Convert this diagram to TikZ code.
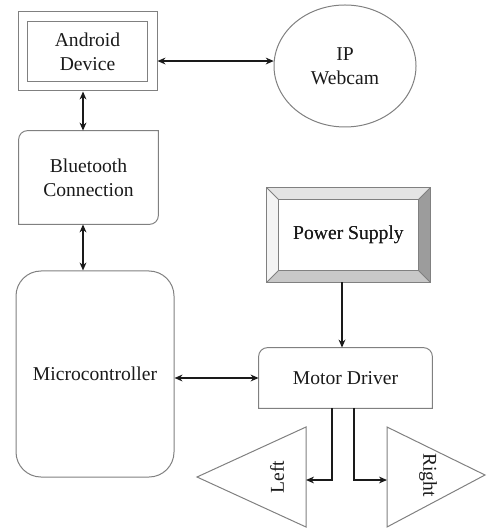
\documentclass[tikz,border=0pt]{standalone}
\usepackage{fontspec}
\setmainfont{Liberation Serif}
\usetikzlibrary{arrows.meta,shapes.geometric,calc}
\definecolor{edge}{HTML}{808080}
\definecolor{ink}{HTML}{1A1A1A}
\definecolor{bevtop}{HTML}{E4E4E4}
\definecolor{bevleft}{HTML}{F4F4F4}
\definecolor{bevright}{HTML}{9C9C9C}
\definecolor{bevbot}{HTML}{C8C8C8}
\begin{document}
\begin{tikzpicture}[x=0.5pt,y=-0.5pt,
  lbl/.style={inner sep=0pt,align=center,text=ink,font=\fontsize{9.8}{12}\selectfont},
  box/.style={lbl,draw=edge,line width=0.5pt},
  outline/.style={draw=edge,line width=0.5pt},
  conn/.style={draw=ink,line width=0.9pt,arrows={-Stealth[length=4pt,width=3.4pt]}},
  dconn/.style={conn,arrows={Stealth[length=4pt,width=3.4pt]-Stealth[length=4pt,width=3.4pt]}}]
\useasboundingbox (0,0) rectangle (486,528);

% Android device: double frame
\node[box,minimum width=69.5pt,minimum height=39.5pt] (andr) at (87.5,51.5) {Android\\Device};
\draw[edge,line width=0.9pt] ([shift={(10,10)}]andr.north west) rectangle ([shift={(-10,-10)}]andr.south east);

% IP webcam
\node[box,ellipse,minimum width=71pt,minimum height=61pt] (cam) at (345,66) {IP\\Webcam};

% Bluetooth: rounded top-left and bottom-right corners
\node[lbl,minimum width=69.5pt,minimum height=46.5pt] (bt) at (88.5,177.5) {Bluetooth\\Connection};
\draw[outline] (bt.south west) -- ($(bt.north west)+(0,9)$) arc[start angle=180,end angle=270,radius=9]
  -- (bt.north east) -- ($(bt.south east)+(0,-9)$) arc[start angle=0,end angle=90,radius=9] -- cycle;

% Microcontroller
\node[box,rounded corners=12.5pt,minimum width=79pt,minimum height=103pt] (mc) at (95,374) {Microcontroller};

% Power supply: bevelled frame
\node[lbl,minimum width=81.5pt,minimum height=47pt] (ps) at (348.5,235) {Power Supply};
\coordinate (pin1) at ([shift={(12,12)}]ps.north west);
\coordinate (pin2) at ([shift={(-12,12)}]ps.north east);
\coordinate (pin3) at ([shift={(-12,-12)}]ps.south east);
\coordinate (pin4) at ([shift={(12,-12)}]ps.south west);
\fill[bevtop] (ps.north west) -- (ps.north east) -- (pin2) -- (pin1) -- cycle;
\fill[bevleft] (ps.north west) -- (pin1) -- (pin4) -- (ps.south west) -- cycle;
\fill[bevright] (ps.north east) -- (ps.south east) -- (pin3) -- (pin2) -- cycle;
\fill[bevbot] (ps.south west) -- (pin4) -- (pin3) -- (ps.south east) -- cycle;
\draw[outline] (ps.north west) rectangle (ps.south east);
\draw[outline] (pin1) rectangle (pin3);
\draw[outline] (ps.north west) -- (pin1) (ps.north east) -- (pin2)
  (ps.south east) -- (pin3) (ps.south west) -- (pin4);
\node[lbl] at (ps.center) {Power Supply};

% Motor driver: rounded top corners
\node[lbl,minimum width=86.5pt,minimum height=30pt] (md) at (345.5,378) {Motor Driver};
\draw[outline] (md.south west) -- ($(md.north west)+(0,9)$) arc[start angle=180,end angle=270,radius=9]
  -- ($(md.north east)+(-9,0)$) arc[start angle=270,end angle=360,radius=9] -- (md.south east) -- cycle;

% Wheels
\draw[outline] (306,427) -- (306,527) -- (197,477) -- cycle;
\coordinate (lw) at (306,480);
\node[lbl,rotate=90] (ltxt) at (277,477) {Left};
\draw[outline] (387,427) -- (387,527) -- (485,475) -- cycle;
\coordinate (rw) at (387,480);
\node[lbl,rotate=-90] (rtxt) at (428,475) {Right};

% Connectors
\coordinate (vx) at (83,0);
\coordinate (px) at (342,0);
\draw[dconn] (andr.east |- cam.176) -- (cam.176);
\draw[dconn] (andr.south -| vx) -- (bt.north -| vx);
\draw[dconn] (bt.south -| vx) -- (mc.north -| vx);
\draw[dconn] (mc.east |- md.west) -- (md.west);
\draw[conn] (ps.south -| px) -- (md.north -| px);
\draw[conn] ($(md.south)+(-13.5,0)$) |- (lw);
\draw[conn] ($(md.south)+(8.5,0)$) |- (rw);
\end{tikzpicture}
\end{document}
